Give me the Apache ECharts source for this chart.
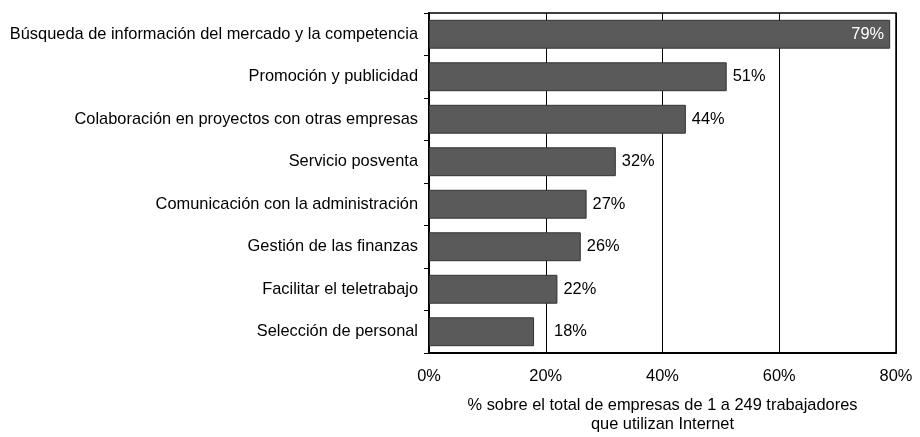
<!DOCTYPE html>
<html>
<head>
<meta charset="utf-8">
<script src="https://cdn.jsdelivr.net/npm/echarts@6/dist/echarts.min.js"></script>
<style>
  html, body { margin: 0; padding: 0; background: #fff; }
  #chart { width: 920px; height: 437px; }
</style>
</head>
<body>
<div id="chart"></div>
<script>
// categories listed top to bottom
const categories = [
  'Búsqueda de información del mercado y la competencia',
  'Promoción y publicidad',
  'Colaboración en proyectos con otras empresas',
  'Servicio posventa',
  'Comunicación con la administración',
  'Gestión de las finanzas',
  'Facilitar el teletrabajo',
  'Selección de personal'
]
const values = [79, 51, 44, 32, 27, 26, 22, 18]
const xTicks = [0, 20, 40, 60, 80]
const axisTitle = '% sobre el total de empresas de 1 a 249 trabajadores\nque utilizan Internet'

const font = '"Liberation Sans", Arial, Helvetica, sans-serif'
const fs = 16.4

const chart = echarts.init(document.getElementById('chart'))
chart.setOption({
  animation: false,
  grid: {
    left: 429, right: 24, top: 13, bottom: 84,
    outerBoundsMode: 'none',
    show: true, borderColor: '#000', borderWidth: 1.5
  },
  xAxis: {
    type: 'value',
    min: xTicks[0],
    max: xTicks[xTicks.length - 1],
    interval: 20,
    name: axisTitle,
    nameLocation: 'middle',
    nameGap: 43,
    nameTextStyle: { color: '#000', fontSize: fs, fontFamily: font, lineHeight: 19 },
    axisLine: { show: true, lineStyle: { color: '#000', width: 2 } },
    axisTick: { show: false },
    axisLabel: { color: '#000', fontSize: fs, fontFamily: font, margin: 15, formatter: '{value}%' },
    splitLine: { show: true, lineStyle: { color: '#000', width: 1 } }
  },
  yAxis: {
    type: 'category',
    inverse: true,
    data: categories,
    axisLine: { show: true, lineStyle: { color: '#000', width: 2 } },
    axisTick: { show: true, length: 5, lineStyle: { color: '#000', width: 1 } },
    axisLabel: { color: '#000', fontSize: fs, fontFamily: font, margin: 11 },
    splitLine: { show: false }
  },
  series: [{
    type: 'bar',
    data: values.map((v, i) => {
      if (i === 0) return { value: v, label: { position: 'insideRight', color: '#fff', distance: 6 } }
      if (i === values.length - 1) return { value: v, label: { distance: 20 } }
      return v
    }),
    barCategoryGap: '32%',
    itemStyle: { color: '#5a5a5a', borderColor: '#333', borderWidth: 1 },
    label: {
      show: true,
      position: 'right',
      distance: 6,
      formatter: '{c}%',
      color: '#000',
      fontSize: fs,
      fontFamily: font
    }
  }]
})
</script>
</body>
</html>
